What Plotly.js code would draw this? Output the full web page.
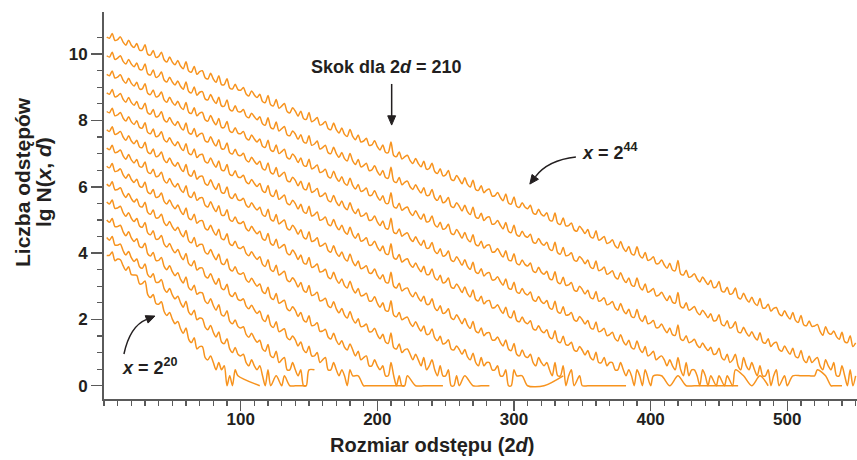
<!DOCTYPE html>
<html>
<head>
<meta charset="utf-8">
<script src="https://cdn.plot.ly/plotly-3.0.1.min.js"></script>
<style>
html,body{margin:0;padding:0;background:#ffffff;}
#chart{width:857px;height:460px;}
</style>
</head>
<body>
<div id="chart"></div>
<script>
// x categories: gap size 2d = 2, 4, 6, ... (index i -> 2 + 2*i)
const gapStart = 2;
const gapStep = 2;

// lg N(x, d), one array per x, starting at 2d = 2 (null = no gap of that size)
const lgN_x2_20 = [
3.93,3.93,4.03,3.77,3.82,3.80,3.62,3.48,3.59,3.35,3.34,3.33,3.07,3.08,3.16,
2.75,2.66,2.75,2.48,2.46,2.53,2.24,2.12,2.21,2.01,1.87,1.94,1.72,1.58,1.74,
1.40,1.30,1.45,1.11,1.18,1.18,0.85,0.78,0.90,0.70,0.48,0.70,0.48,0.60,0,
0.30,0,0.48,0.30,null,null,null,null,null,null,null,0];

const lgN_x2_22 = [
4.47,4.39,4.50,4.24,4.24,4.27,4.07,3.94,4.05,3.86,3.75,3.82,3.59,3.54,3.67,
3.35,3.27,3.38,3.12,3.12,3.20,2.93,2.82,2.93,2.74,2.62,2.70,2.50,2.37,2.55,
2.22,2.14,2.28,1.99,2.04,2.02,1.77,1.69,1.82,1.61,1.47,1.62,1.32,1.27,1.42,
1.11,1.00,1.15,0.95,0.90,0.95,0.70,0.60,0.78,0.60,0.48,0.60,0.30,0,0.48,
0,null,0.30,null,0,0.30,null,0,null,0,null,0,null,0];

const lgN_x2_24 = [
5.00,4.93,5.04,4.80,4.80,4.84,4.64,4.52,4.64,4.46,4.35,4.43,4.20,4.17,4.30,
3.98,3.91,4.02,3.78,3.78,3.87,3.60,3.50,3.62,3.44,3.32,3.41,3.21,3.10,3.28,
2.96,2.89,3.03,2.76,2.81,2.80,2.55,2.48,2.62,2.42,2.28,2.44,2.14,2.11,2.26,
1.94,1.87,1.98,1.79,1.74,1.78,1.55,1.46,1.58,1.43,1.31,1.37,1.11,1.04,1.24,
0.90,0.85,1.04,0.70,0.78,0.85,0.48,0.48,0.70,0.48,0.30,0.48,0,0,0.48,
null,0.48];

const lgN_x2_26 = [
5.54,5.48,5.60,5.35,5.36,5.41,5.22,5.11,5.22,5.05,4.95,5.04,4.82,4.78,4.92,
4.61,4.55,4.67,4.42,4.43,4.53,4.27,4.18,4.29,4.12,4.01,4.11,3.92,3.80,3.99,
3.68,3.62,3.77,3.49,3.55,3.55,3.31,3.25,3.38,3.19,3.06,3.23,2.94,2.90,3.06,
2.75,2.69,2.81,2.61,2.57,2.62,2.40,2.32,2.43,2.29,2.18,2.25,2.01,1.94,2.13,
1.82,1.76,1.93,1.63,1.67,1.72,1.45,1.39,1.50,1.38,1.20,1.32,1.08,1.00,1.19,
0.90,0.90,1.00,0.70,0.78,0.85,0.48,0.48,0.70,0.48,0.30,0.48,0.30,0,0.48,
0.30,null,0.30,null,0,0,null,null,0,null,null,0,null,null,0,
null,null,0,null,0];

const lgN_x2_28 = [
6.08,6.02,6.15,5.91,5.92,5.97,5.79,5.68,5.80,5.64,5.54,5.63,5.42,5.39,5.53,
5.23,5.17,5.30,5.06,5.07,5.17,4.92,4.83,4.95,4.79,4.68,4.78,4.60,4.49,4.68,
4.37,4.31,4.47,4.20,4.26,4.26,4.03,3.97,4.11,3.93,3.80,3.97,3.69,3.66,3.82,
3.52,3.46,3.59,3.40,3.36,3.41,3.20,3.12,3.24,3.11,3.00,3.07,2.84,2.78,2.97,
2.66,2.60,2.78,2.49,2.53,2.58,2.32,2.26,2.38,2.27,2.09,2.21,1.98,1.92,2.11,
1.81,1.83,1.90,1.64,1.65,1.70,1.47,1.41,1.58,1.37,1.24,1.36,1.16,1.08,1.26,
1.08,0.90,1.04,0.78,0.85,0.90,0.60,0.60,0.78,0.60,0.48,0.60,0.30,0.30,0.70,
0.30,0,0.30,0,0,0.30,null,null,0,null,null,0,null,null,0,
null,null,0,0];

const lgN_x2_30 = [
6.62,6.57,6.70,6.46,6.48,6.54,6.36,6.26,6.38,6.22,6.13,6.23,6.02,5.99,6.14,
5.84,5.79,5.92,5.68,5.70,5.81,5.56,5.48,5.60,5.44,5.34,5.45,5.27,5.16,5.36,
5.06,5.01,5.17,4.90,4.97,4.98,4.75,4.70,4.84,4.66,4.54,4.72,4.44,4.41,4.58,
4.28,4.23,4.36,4.17,4.14,4.20,3.99,3.92,4.04,3.91,3.81,3.89,3.66,3.60,3.80,
3.50,3.45,3.63,3.34,3.39,3.45,3.19,3.14,3.26,3.15,2.98,3.11,2.88,2.82,3.02,
2.72,2.75,2.82,2.56,2.58,2.64,2.41,2.36,2.53,2.32,2.20,2.33,2.13,2.04,2.24,
2.01,1.89,2.02,1.78,1.80,1.86,1.63,1.63,1.73,1.54,1.42,1.55,1.32,1.28,1.59,
1.15,1.11,1.26,1.00,1.08,1.11,0.95,0.78,0.95,0.78,0.60,0.85,0.48,0.60,0.78,
0.48,0.30,0.60,0.30,0.30,0.48,0,0,0.30,0,null,0.30,null,null,0,
null,null,0,null,0,0];

const lgN_x2_32 = [
7.17,7.12,7.25,7.03,7.05,7.11,6.93,6.83,6.97,6.81,6.72,6.82,6.61,6.60,6.75,
6.45,6.40,6.53,6.31,6.33,6.44,6.19,6.11,6.25,6.09,5.99,6.10,5.92,5.83,6.03,
5.73,5.68,5.84,5.59,5.66,5.67,5.44,5.39,5.55,5.37,5.25,5.43,5.15,5.14,5.31,
5.01,4.96,5.09,4.92,4.89,4.95,4.74,4.67,4.81,4.68,4.58,4.66,4.43,4.39,4.59,
4.29,4.24,4.42,4.15,4.20,4.26,4.00,3.95,4.09,3.98,3.81,3.94,3.71,3.67,3.87,
3.57,3.60,3.67,3.43,3.45,3.51,3.28,3.23,3.42,3.21,3.09,3.22,3.02,2.95,3.15,
2.92,2.80,2.93,2.71,2.73,2.79,2.56,2.56,2.68,2.49,2.37,2.50,2.27,2.25,2.56,
2.13,2.08,2.21,1.99,2.04,2.07,1.89,1.79,1.93,1.77,1.65,1.80,1.55,1.56,1.71,
1.44,1.36,1.49,1.26,1.29,1.39,1.11,1.08,1.20,1.09,0.95,1.09,0.87,0.78,0.98,
0.70,0.60,0.85,0.60,0.70,0.70,0.48,0.48,0.60,0.30,0.30,0.48,0,0,0.48,
0.30,null,0.30,null,0,null,null,null,null,null,0,null,null,null,null,
null,null,0.30];

const lgN_x2_34 = [
7.72,7.67,7.81,7.58,7.61,7.67,7.50,7.40,7.54,7.38,7.30,7.40,7.20,7.18,7.34,
7.05,7.00,7.14,6.91,6.94,7.05,6.81,6.73,6.87,6.71,6.62,6.73,6.56,6.46,6.67,
6.37,6.32,6.49,6.23,6.31,6.32,6.10,6.05,6.21,6.03,5.92,6.10,5.83,5.81,5.99,
5.70,5.65,5.79,5.61,5.59,5.65,5.45,5.38,5.52,5.39,5.30,5.38,5.16,5.11,5.32,
5.02,4.97,5.16,4.88,4.94,5.00,4.75,4.70,4.84,4.73,4.57,4.70,4.48,4.43,4.64,
4.35,4.38,4.46,4.21,4.24,4.30,4.08,4.03,4.22,4.01,3.90,4.03,3.84,3.76,3.97,
3.74,3.62,3.76,3.53,3.56,3.62,3.40,3.40,3.52,3.33,3.22,3.35,3.13,3.10,3.42,
3.00,2.95,3.09,2.86,2.92,2.95,2.78,2.68,2.82,2.66,2.55,2.70,2.46,2.46,2.62,
2.35,2.27,2.41,2.18,2.21,2.32,2.05,2.00,2.14,2.01,1.87,2.03,1.83,1.73,1.94,
1.65,1.60,1.74,1.51,1.59,1.60,1.38,1.38,1.47,1.31,1.20,1.38,1.11,1.06,1.27,
0.95,0.90,1.08,0.90,0.85,0.95,0.70,0.60,0.85,0.70,0.60,0.70,0.48,0.30,0.70,
0.30,0.30,0.60,0,0.30,0.48,0,null,0.30,0,null,0,null,null,0,
null,0,0,null,null,0,null,null,0,null,0];

const lgN_x2_36 = [
8.27,8.23,8.37,8.14,8.17,8.24,8.07,7.98,8.11,7.96,7.88,7.99,7.79,7.77,7.93,
7.64,7.60,7.74,7.51,7.54,7.66,7.42,7.35,7.48,7.33,7.24,7.36,7.19,7.09,7.30,
7.01,6.97,7.14,6.88,6.96,6.98,6.76,6.72,6.87,6.70,6.59,6.78,6.51,6.49,6.67,
6.38,6.34,6.48,6.30,6.28,6.35,6.15,6.09,6.22,6.10,6.01,6.10,5.88,5.83,6.04,
5.75,5.71,5.90,5.62,5.68,5.75,5.50,5.46,5.59,5.49,5.33,5.47,5.25,5.20,5.41,
5.12,5.16,5.24,4.99,5.02,5.09,4.87,4.83,5.01,4.81,4.70,4.84,4.65,4.57,4.78,
4.56,4.45,4.59,4.36,4.39,4.46,4.24,4.25,4.36,4.18,4.07,4.21,3.99,3.96,4.28,
3.86,3.82,3.96,3.73,3.79,3.83,3.66,3.57,3.70,3.55,3.44,3.60,3.36,3.36,3.52,
3.26,3.19,3.33,3.10,3.13,3.25,2.98,2.94,3.07,2.95,2.81,2.98,2.78,2.68,2.89,
2.60,2.56,2.70,2.47,2.55,2.57,2.35,2.36,2.44,2.29,2.18,2.37,2.10,2.05,2.26,
1.97,1.93,2.07,1.92,1.87,1.96,1.72,1.68,1.81,1.66,1.60,1.69,1.47,1.42,1.66,
1.34,1.30,1.49,1.24,1.23,1.31,1.08,1.04,1.18,1.07,0.93,1.06,0.85,0.78,1.01,
0.70,0.70,0.85,0.60,0.70,0.70,0.48,0.48,0.70,0.48,0.30,0.48,0.30,0,0.48,
0.30,0,0.48,null,0,0.30,null,null,0.30,null,null,0,null,null,0.30,
null,null,0,null,null,0,null,null,null,null,null,null,null,null,0,
null,null,null,null,null,null,0];

const lgN_x2_38 = [
8.83,8.79,8.93,8.71,8.74,8.81,8.64,8.55,8.69,8.54,8.46,8.57,8.37,8.36,8.52,
8.23,8.19,8.33,8.11,8.14,8.26,8.02,7.95,8.09,7.94,7.85,7.97,7.80,7.71,7.92,
7.63,7.59,7.76,7.51,7.59,7.61,7.39,7.35,7.51,7.34,7.23,7.42,7.15,7.14,7.32,
7.03,6.99,7.13,6.96,6.94,7.01,6.81,6.75,6.89,6.77,6.68,6.77,6.55,6.51,6.72,
6.43,6.39,6.58,6.31,6.37,6.44,6.19,6.15,6.29,6.19,6.03,6.17,5.95,5.91,6.12,
5.83,5.87,5.95,5.71,5.74,5.81,5.59,5.55,5.74,5.54,5.43,5.57,5.38,5.31,5.52,
5.30,5.19,5.33,5.11,5.14,5.21,4.99,5.00,5.12,4.94,4.83,4.97,4.75,4.73,5.05,
4.63,4.59,4.73,4.51,4.57,4.61,4.44,4.35,4.49,4.34,4.23,4.39,4.15,4.16,4.32,
4.06,3.99,4.13,3.91,3.94,4.06,3.79,3.75,3.89,3.77,3.63,3.80,3.60,3.51,3.72,
3.43,3.39,3.53,3.31,3.39,3.41,3.19,3.20,3.29,3.14,3.03,3.22,2.95,2.91,3.12,
2.83,2.79,2.93,2.79,2.74,2.83,2.59,2.55,2.69,2.54,2.48,2.57,2.35,2.31,2.55,
2.23,2.19,2.38,2.13,2.14,2.21,1.99,1.95,2.09,1.99,1.86,1.97,1.75,1.71,1.92,
1.63,1.66,1.73,1.51,1.54,1.61,1.42,1.35,1.54,1.34,1.23,1.37,1.15,1.11,1.35,
1.11,1.00,1.18,0.90,0.95,1.04,0.78,0.85,0.90,0.78,0.60,0.78,0.60,0.48,0.85,
0.48,0.30,0.70,0.30,0.48,0.48,0.30,0,0.48,0.30,0,0.30,null,0,0.30,
null,0,0.30,null,0,0.48,null,null,0.30,null,null,0,null,null,0.30,
null,null,0];

const lgN_x2_40 = [
9.39,9.35,9.49,9.28,9.31,9.38,9.21,9.12,9.27,9.12,9.04,9.15,8.95,8.95,9.11,
8.82,8.78,8.92,8.71,8.74,8.86,8.62,8.55,8.70,8.55,8.46,8.58,8.41,8.33,8.54,
8.25,8.21,8.38,8.14,8.22,8.24,8.02,7.98,8.15,7.98,7.87,8.06,7.79,7.79,7.97,
7.68,7.64,7.78,7.62,7.60,7.67,7.47,7.41,7.56,7.44,7.35,7.44,7.22,7.19,7.40,
7.11,7.07,7.26,7.00,7.06,7.13,6.88,6.84,6.99,6.89,6.73,6.87,6.65,6.62,6.83,
6.54,6.58,6.66,6.43,6.46,6.53,6.31,6.27,6.47,6.27,6.16,6.30,6.11,6.05,6.26,
6.04,5.93,6.07,5.86,5.89,5.96,5.74,5.75,5.88,5.70,5.59,5.73,5.51,5.50,5.82,
5.40,5.36,5.50,5.29,5.35,5.39,5.22,5.13,5.28,5.13,5.02,5.18,4.94,4.96,5.12,
4.86,4.79,4.93,4.72,4.75,4.87,4.60,4.56,4.71,4.59,4.45,4.62,4.42,4.34,4.55,
4.26,4.22,4.36,4.15,4.23,4.25,4.03,4.04,4.14,3.99,3.88,4.07,3.80,3.77,3.98,
3.69,3.65,3.79,3.66,3.61,3.70,3.46,3.42,3.57,3.42,3.36,3.45,3.23,3.20,3.44,
3.12,3.08,3.27,3.03,3.04,3.11,2.89,2.85,3.00,2.90,2.77,2.88,2.66,2.63,2.84,
2.55,2.58,2.65,2.44,2.47,2.54,2.35,2.28,2.48,2.28,2.17,2.31,2.09,2.06,2.30,
2.03,1.94,2.11,1.87,1.90,1.97,1.75,1.76,1.86,1.71,1.60,1.74,1.54,1.52,1.83,
1.41,1.37,1.51,1.30,1.33,1.40,1.23,1.15,1.29,1.16,1.06,1.16,0.95,0.97,1.13,
0.85,0.78,0.95,0.70,0.78,0.95,0.60,0.48,0.85,0.60,0.48,0.70,0.48,0.30,0.60,
0.30,0.30,0.48,0,0.30,0.48,0,null,0.30,0,null,0.30,null,null,0.30,
null,null,0.30,null,0.30,0.48,null,null,0.30,null,0,0,null,null,0];

const lgN_x2_42 = [
9.95,9.91,10.06,9.84,9.88,9.95,9.78,9.70,9.84,9.70,9.62,9.73,9.54,9.53,9.70,
9.41,9.37,9.52,9.30,9.34,9.46,9.22,9.16,9.30,9.16,9.07,9.19,9.03,8.94,9.16,
8.87,8.83,9.01,8.76,8.85,8.87,8.65,8.62,8.78,8.62,8.51,8.70,8.44,8.43,8.62,
8.33,8.29,8.44,8.27,8.26,8.33,8.13,8.08,8.22,8.11,8.02,8.11,7.90,7.86,8.08,
7.79,7.75,7.95,7.68,7.75,7.82,7.57,7.54,7.68,7.59,7.43,7.57,7.36,7.32,7.54,
7.25,7.29,7.38,7.14,7.18,7.25,7.03,7.00,7.19,7.00,6.89,7.03,6.85,6.78,7.00,
6.78,6.67,6.82,6.60,6.64,6.71,6.49,6.51,6.63,6.46,6.35,6.49,6.28,6.26,6.59,
6.17,6.13,6.28,6.06,6.13,6.17,6.00,5.92,6.06,5.92,5.81,5.97,5.74,5.75,5.92,
5.66,5.59,5.74,5.52,5.56,5.68,5.41,5.38,5.52,5.41,5.27,5.44,5.25,5.16,5.38,
5.09,5.05,5.20,4.98,5.07,5.09,4.87,4.89,4.98,4.84,4.73,4.92,4.66,4.62,4.84,
4.55,4.51,4.66,4.52,4.48,4.57,4.33,4.30,4.44,4.30,4.24,4.33,4.12,4.08,4.33,
4.01,3.97,4.17,3.92,3.94,4.01,3.79,3.76,3.90,3.81,3.68,3.79,3.58,3.54,3.76,
3.47,3.50,3.58,3.36,3.40,3.47,3.28,3.22,3.41,3.22,3.11,3.25,3.04,3.00,3.25,
2.98,2.89,3.07,2.82,2.86,2.93,2.71,2.73,2.82,2.68,2.57,2.71,2.52,2.49,2.81,
2.39,2.35,2.50,2.28,2.32,2.39,2.22,2.14,2.28,2.17,2.05,2.17,1.96,1.97,2.14,
1.85,1.81,1.96,1.74,1.78,1.93,1.63,1.60,1.76,1.60,1.49,1.63,1.47,1.38,1.60,
1.32,1.28,1.42,1.18,1.28,1.31,1.09,1.04,1.20,1.06,0.95,1.13,0.88,0.85,1.06,
0.78,0.70,0.90,0.70,0.78,0.85,0.60,0.48,0.78,0.60,0.48,0.70,0.30,0.30,0.60,
0.30,0,0.48,0,0.30];

const lgN_x2_44 = [
10.51,10.48,10.62,10.41,10.44,10.52,10.36,10.27,10.42,10.27,10.20,10.32,10.12,10.12,10.28,
10.00,9.97,10.11,9.90,9.93,10.06,9.83,9.76,9.91,9.76,9.68,9.81,9.64,9.56,9.77,
9.49,9.46,9.63,9.39,9.47,9.50,9.29,9.25,9.42,9.25,9.15,9.35,9.08,9.08,9.26,
8.98,8.95,9.09,8.93,8.91,8.99,8.80,8.74,8.89,8.77,8.69,8.79,8.57,8.54,8.75,
8.47,8.44,8.63,8.37,8.43,8.51,8.27,8.23,8.38,8.28,8.13,8.28,8.06,8.03,8.24,
7.96,8.01,8.09,7.86,7.89,7.97,7.76,7.72,7.92,7.72,7.62,7.77,7.58,7.52,7.73,
7.52,7.42,7.56,7.35,7.38,7.46,7.25,7.26,7.39,7.21,7.11,7.26,7.04,7.03,7.35,
6.94,6.91,7.05,6.84,6.90,6.95,6.79,6.70,6.85,6.70,6.60,6.77,6.53,6.55,6.71,
6.46,6.40,6.54,6.33,6.36,6.49,6.23,6.19,6.34,6.22,6.09,6.27,6.07,5.99,6.20,
5.92,5.89,6.03,5.82,5.90,5.93,5.72,5.73,5.83,5.68,5.58,5.78,5.51,5.48,5.69,
5.41,5.38,5.52,5.39,5.34,5.44,5.21,5.17,5.32,5.17,5.12,5.22,5.00,4.97,5.21,
4.90,4.87,5.06,4.82,4.83,4.91,4.70,4.66,4.81,4.71,4.59,4.71,4.49,4.46,4.67,
4.39,4.43,4.50,4.29,4.32,4.40,4.22,4.15,4.35,4.15,4.05,4.20,3.98,3.95,4.19,
3.93,3.85,4.02,3.78,3.81,3.89,3.68,3.69,3.79,3.64,3.54,3.69,3.49,3.47,3.78,
3.37,3.34,3.48,3.27,3.30,3.38,3.22,3.13,3.28,3.16,3.05,3.18,2.96,2.98,3.14,
2.86,2.83,2.97,2.76,2.79,2.95,2.66,2.62,2.79,2.62,2.52,2.67,2.50,2.42,2.63,
2.35,2.35,2.46,2.25,2.33,2.36,2.17,2.11,2.26,2.11,2.01,2.21,1.97,1.91,2.12,
1.84,1.81,1.95,1.79,1.80,1.85,1.64,1.52,1.78,1.60,1.55,1.65,1.48,1.40,1.61,
1.33,1.30,1.51,1.18,1.29];

const seriesNames = ['x = 2^20','x = 2^22','x = 2^24','x = 2^26','x = 2^28','x = 2^30','x = 2^32',
                     'x = 2^34','x = 2^36','x = 2^38','x = 2^40','x = 2^42','x = 2^44'];
const seriesValues = [lgN_x2_20,lgN_x2_22,lgN_x2_24,lgN_x2_26,lgN_x2_28,lgN_x2_30,lgN_x2_32,
                      lgN_x2_34,lgN_x2_36,lgN_x2_38,lgN_x2_40,lgN_x2_42,lgN_x2_44];

const xMajorTicks = [100,200,300,400,500];
const yMajorTicks = [0,2,4,6,8,10];

const FONT = "'Liberation Sans', Arial, sans-serif";
const ORANGE = '#F7931E';
const INK = '#231F20';
const AXIS = '#5a5a5a';

const traces = seriesValues.map((ys, k) => ({
  type: 'scatter',
  mode: 'lines',
  name: seriesNames[k],
  x: ys.map((_, i) => gapStart + gapStep * i),
  y: ys,
  connectgaps: true,
  line: {color: ORANGE, width: 1.5, shape: 'spline', smoothing: 0.8},
  hoverinfo: 'x+y+name'
}));

const xMinor = [];
for (let v = 0; v <= 550; v += 10) if (v % 100 !== 0 || v === 0) xMinor.push(v);
const yMinor = [];
for (let v = 0.5; v <= 10.5; v += 0.5) if (v % 2 !== 0) yMinor.push(v);

const layout = {
  width: 857, height: 460,
  margin: {l: 104, r: 0, t: 12, b: 61, pad: 0},
  paper_bgcolor: '#ffffff', plot_bgcolor: '#ffffff',
  showlegend: false,
  font: {family: FONT, size: 18, color: INK, weight: 'bold'},
  xaxis: {
    range: [0, 551], showgrid: false, zeroline: false,
    showline: true, linecolor: AXIS, linewidth: 2,
    ticks: 'outside', ticklen: 10, tickwidth: 1.5, tickcolor: AXIS,
    tickmode: 'array', tickvals: xMajorTicks, ticktext: xMajorTicks.map(String),
    ticklabelstandoff: -6,
    tickfont: {family: FONT, size: 17, color: INK, weight: 'bold'},
    minor: {tickmode: 'array', tickvals: xMinor, ticks: 'outside', ticklen: 5, tickwidth: 1.2, tickcolor: AXIS, showgrid: false}
  },
  yaxis: {
    range: [-0.40, 11.27], showgrid: false, zeroline: false,
    showline: true, linecolor: AXIS, linewidth: 2,
    ticks: 'outside', ticklen: 11, tickwidth: 1.5, tickcolor: AXIS,
    tickmode: 'array', tickvals: yMajorTicks, ticktext: yMajorTicks.map(String),
    tickfont: {family: FONT, size: 17, color: INK, weight: 'bold'},
    minor: {tickmode: 'array', tickvals: yMinor, ticks: 'outside', ticklen: 5, tickwidth: 1.2, tickcolor: AXIS, showgrid: false}
  },
  annotations: [
    {xref: 'paper', yref: 'paper', x: 0.4356, y: 0, yshift: -46, xanchor: 'center', yanchor: 'middle',
     text: 'Rozmiar odstępu (2<i>d</i>)', showarrow: false, font: {size: 20}},
    {xref: 'paper', yref: 'paper', x: (22 - 104) / 753, y: (399 - 182) / 387, xanchor: 'center', yanchor: 'middle',
     textangle: -90, text: 'Liczba odstępów', showarrow: false, font: {size: 21}},
    {xref: 'paper', yref: 'paper', x: (43 - 104) / 753, y: (399 - 182) / 387, xanchor: 'center', yanchor: 'middle',
     textangle: -90, text: 'lg N(<i>x</i>, <i>d</i>)', showarrow: false, font: {size: 21}},
    {xref: 'x', yref: 'y', x: 207, y: 9.61, xanchor: 'center', yanchor: 'middle',
     text: 'Skok dla 2<i>d</i> = 210', showarrow: false, font: {size: 18}},
    {xref: 'x', yref: 'y', x: 370.2, y: 7.05, xanchor: 'center', yanchor: 'middle',
     text: '<i>x</i> = 2<sup>44</sup>', showarrow: false, font: {size: 18}},
    {xref: 'x', yref: 'y', x: 33.7, y: 0.59, xanchor: 'center', yanchor: 'middle',
     text: '<i>x</i> = 2<sup>20</sup>', showarrow: false, font: {size: 18}}
  ],
  shapes: [
    // straight arrow pointing at the jump at 2d = 210
    {type: 'line', xref: 'x', yref: 'y', x0: 210.5, y0: 9.10, x1: 210.5, y1: 8.10,
     line: {color: INK, width: 1.5}},
    {type: 'path', xref: 'x', yref: 'y', path: 'M 210.5,7.86 L 207.6,8.14 L 213.4,8.14 Z',
     line: {color: INK, width: 1}, fillcolor: INK},
    // curved arrow for x = 2^44
    {type: 'path', xref: 'x', yref: 'y', path: 'M 345.3,6.895 Q 324.8,6.803 315.6,6.298',
     line: {color: INK, width: 1.5}},
    {type: 'path', xref: 'x', yref: 'y', path: 'M 311.6,6.081 L 317.9,6.226 L 313.2,6.370 Z',
     line: {color: INK, width: 1}, fillcolor: INK},
    // curved arrow for x = 2^20
    {type: 'path', xref: 'x', yref: 'y', path: 'M 14.6,0.956 Q 19.0,1.800 31.2,2.000',
     line: {color: INK, width: 1.5}},
    {type: 'path', xref: 'x', yref: 'y', path: 'M 37.3,2.101 L 32.26,1.889 L 30.14,2.113 Z',
     line: {color: INK, width: 1}, fillcolor: INK}
  ]
};

Plotly.newPlot('chart', traces, layout, {displayModeBar: false, staticPlot: true});
</script>
</body>
</html>
